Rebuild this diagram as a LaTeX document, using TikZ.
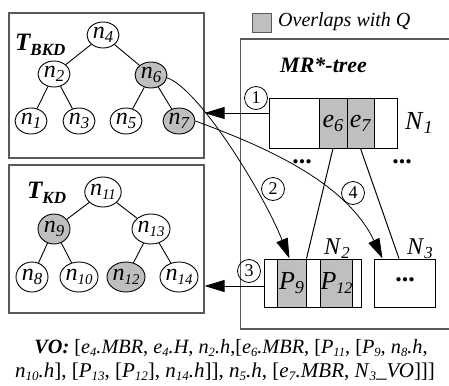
\documentclass[tikz,border=0pt]{standalone}
\usepackage{fontspec}
\setmainfont{Liberation Serif}
\usepackage{graphicx}
\usetikzlibrary{shapes.geometric,arrows.meta}
% italic symbol with a smaller, lowered italic index
\newcommand{\sbs}[3][0.7]{\textit{#2}\raisebox{-0.16em}{\scalebox{#1}{\textit{#3}}}}
\newcommand{\fs}[1]{\fontsize{#1}{#1}\selectfont}

\begin{document}
\begin{tikzpicture}[x=1pt,y=-1pt,
  frame/.style={draw=black!65, line width=1.1pt},
  tnode/.style={ellipse, draw, line width=0.9pt, fill=white, minimum width=32pt,
    minimum height=26pt, inner sep=0pt, font=\fs{24}},
  knode/.style={tnode, minimum height=30pt},
  hit/.style={fill=black!25},
  cell/.style={draw, line width=1pt, fill=white, inner sep=0pt, font=\fs{26}},
  numc/.style={circle, draw, line width=0.8pt, minimum size=23pt, inner sep=0pt, font=\fs{18}},
  arr/.style={-{Triangle[length=20pt,width=12pt]}, line width=0.8pt},
  tedge/.style={line width=0.9pt},
  dots/.style={font=\fs{26}\bfseries, inner sep=0pt}]
\useasboundingbox (0,0) rectangle (449,385);

% ---- frames ----
\node[frame, minimum width=195pt, minimum height=145pt, inner sep=0pt] (bkd) at (106.5,85.5) {};
\node[frame, minimum width=195pt, minimum height=148pt, inner sep=0pt] (kd) at (106.5,239) {};
\draw[frame] (449,39) -- (240.7,39) -- (240.7,329) -- (449,329);

% ---- legend ----
\node[draw=black!65, line width=0.8pt, fill=black!25, minimum size=19pt, inner sep=0pt] (leg) at (261.5,22.5) {};
\node[anchor=west, inner sep=0pt, font=\fs{20}\itshape] (legt) at (278,22) {Overlaps with Q};
\node[anchor=west, inner sep=0pt, font=\fs{22}\bfseries\itshape] (mrt) at (280,65) {MR*-tree};

% ---- T_BKD ----
\node[anchor=west, inner sep=0pt, font=\bfseries\itshape] (tbl) at (15,45)
  {\fs{25}T\raisebox{-0.2em}{\fs{17}BKD}};
\node[tnode] (n4) at (103,35) {\sbs{n}{4}};
\node[tnode] (n2) at (54,74) {\sbs{n}{2}};
\node[tnode, hit] (n6) at (151,75) {\sbs{n}{6}};
\node[tnode] (n1) at (31,121) {\sbs{n}{1}};
\node[tnode] (n3) at (79,121) {\sbs{n}{3}};
\node[tnode] (n5) at (126,121) {\sbs{n}{5}};
\node[tnode, hit] (n7) at (179,121) {\sbs{n}{7}};
\draw[tedge] (n4) -- (n2) (n4) -- (n6) (n2) -- (n1) (n2) -- (n3) (n6) -- (n5) (n6) -- (n7);

% ---- T_KD ----
\node[anchor=west, inner sep=0pt, font=\bfseries\itshape] (tkl) at (27,193)
  {\fs{25}T\raisebox{-0.2em}{\fs{17}KD}};
\node[knode] (n11) at (103,192) {\sbs[0.62]{n}{11}};
\node[knode, hit] (n9) at (54,229) {\sbs{n}{9}};
\node[knode] (n13) at (151,229) {\sbs[0.62]{n}{13}};
\node[knode] (n8) at (32,277) {\sbs{n}{8}};
\node[knode] (n10) at (79,277) {\sbs[0.62]{n}{10}};
\node[knode, hit] (n12) at (126,277) {\sbs[0.62]{n}{12}};
\node[knode] (n14) at (179,277) {\sbs[0.62]{n}{14}};
\draw[tedge] (n11) -- (n9) (n11) -- (n13) (n9) -- (n8) (n9) -- (n10) (n13) -- (n12) (n13) -- (n14);

% ---- node N1 ----
\node[cell, minimum width=50pt, minimum height=49pt] (a1) at (294,123.5) {};
\node[cell, hit, minimum width=28pt, minimum height=49pt] (e6) at (333,123.5) {\sbs{e}{6}};
\node[cell, hit, minimum width=27pt, minimum height=49pt] (e7) at (360.5,123.5) {\sbs{e}{7}};
\node[cell, minimum width=23pt, minimum height=49pt] (b1) at (385.5,123.5) {};
\node[font=\fs{26}, inner sep=0pt] (N1) at (419,123) {\sbs{N}{1}};
\node[dots] (d1) at (302,162) {...};
\node[dots] (d2) at (402,162) {...};

% ---- node N2 ----
\node[cell, minimum width=13pt, minimum height=48pt] (a2) at (270.5,283) {};
\node[cell, hit, minimum width=29pt, minimum height=48pt] (P9) at (291.5,283) {\sbs{P}{9}};
\node[cell, minimum width=15pt, minimum height=48pt] (c2) at (313.5,283) {};
\node[cell, hit, minimum width=31pt, minimum height=48pt] (P12) at (336.5,283) {\sbs[0.62]{P}{12}};
\node[cell, minimum width=9pt, minimum height=48pt] (b2) at (356.5,283) {};
\node[font=\fs{24}, inner sep=0pt] (N2) at (337,249) {\sbs{N}{2}};

% ---- node N3 ----
\node[cell, minimum width=61pt, minimum height=48pt] (N3box) at (404.5,283) {};
\node[dots] (d3) at (405,280) {...};
\node[font=\fs{24}, inner sep=0pt] (N3) at (420,249) {\sbs{N}{3}};

% ---- child pointers ----
\draw[line width=1pt] (e6.south) -- (P9.north east);
\draw[line width=1pt] (e7.south) -- ([xshift=-5.5pt]N3box.north);

% ---- traversal steps ----
\coordinate (o1) at ([yshift=10.5pt]a1.west);
\coordinate (o3) at ([yshift=-3pt]a2.west);
\draw[arr] (o1) -- (bkd.east |- o1);
\draw[arr] (o3) -- (kd.east |- o3);
\draw[arr] (n6.-10) .. controls (198,88) and (262,190) .. ([xshift=-2pt]P9.north);
\draw[arr] (n7.east) .. controls (260,145) and (345,180) .. ([xshift=9pt]N3box.north west);
\node[numc] (s1) at (256,98) {1};
\node[numc] (s2) at (273,189) {2};
\node[numc] (s3) at (249,271) {3};
\node[numc] (s4) at (353,193) {4};

% ---- verification object ----
\node[anchor=base, inner sep=0pt, font=\fs{20.3}] (vo1) at (231,353)
  {\textbf{\textit{VO:}} [\sbs[0.62]{e}{4}\textit{.MBR}, \sbs[0.62]{e}{4}\textit{.H}, \sbs[0.62]{n}{2}\textit{.h},[\sbs[0.62]{e}{6}\textit{.MBR}, [\sbs[0.62]{P}{11}, [\sbs[0.62]{P}{9}, \sbs[0.62]{n}{8}\textit{.h},};
\node[anchor=base, inner sep=0pt, font=\fs{21}] (vo2) at (225,377)
  {\sbs[0.62]{n}{10}\textit{.h}], [\sbs[0.62]{P}{13}, [\sbs[0.62]{P}{12}], \sbs[0.62]{n}{14}\textit{.h}]], \sbs[0.62]{n}{5}\textit{.h}, [\sbs[0.62]{e}{7}\textit{.MBR}, \sbs[0.62]{N}{3}\textit{\_VO}]]]};
\end{tikzpicture}
\end{document}
